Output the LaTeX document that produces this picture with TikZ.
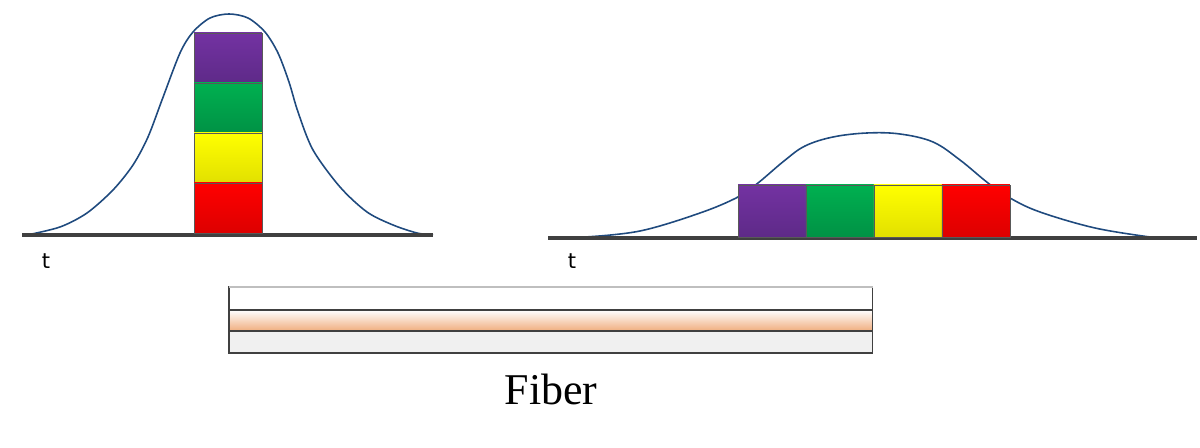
\documentclass[tikz,border=0pt]{standalone}
\usepackage{fontspec}
\setmainfont{Liberation Serif}
\newfontfamily\labelfont{DejaVu Sans}
\usetikzlibrary{positioning}

\definecolor{pulseblue}{HTML}{1F4A7E}
\definecolor{purpleA}{HTML}{7332A2}
\definecolor{purpleB}{HTML}{5E2A88}
\definecolor{greenA}{HTML}{00B050}
\definecolor{greenB}{HTML}{009245}
\definecolor{yellowA}{HTML}{FFFF00}
\definecolor{yellowB}{HTML}{E2E000}
\definecolor{redA}{HTML}{FF0000}
\definecolor{redB}{HTML}{DD0000}
\definecolor{coreA}{HTML}{FFFFFF}
\definecolor{coreB}{HTML}{F0AD7E}

\begin{document}
\begin{tikzpicture}[
		x=0.02cm, y=-0.02cm,
		pulse/.style={draw=pulseblue, line width=0.9pt},
		axis/.style={draw=black!75, line width=1.8pt},
		blk/.style={
			draw=black!65, line width=0.5pt, inner sep=0pt, outer sep=0pt,
			minimum width=1.36cm, minimum height=1.0cm
		},
		wideblk/.style={blk, minimum height=1.04cm},
		layer/.style={
			draw=black!75, line width=0.6pt, inner sep=0pt, outer sep=0pt,
			minimum width=12.88cm
		},
		tlabel/.style={font=\labelfont\fontsize{12}{14}\selectfont}
		]
		\useasboundingbox (0,0) rectangle (1200,448);
		
		% ---- linker Puls (kurz, hoch)
		\draw[pulse] plot[smooth, tension=0.5] coordinates {
			(27,235) (60,227) (87,213) (113,190) (133,165) (148,137) (162,100)
			(180,53) (193,32) (210,18) (229,14) (248,18) (265,32) (278,53)
			(289,82) (298,112) (313,150) (340,187) (367,212) (393,225) (417,233) (433,235)};
		\draw[axis] (22,235) -- (433,235);
		
		\node[blk, top color=purpleA, bottom color=purpleB, anchor=north west] (lpurple) at (194,33) {};
		\node[blk, top color=greenA,  bottom color=greenB,  below=0pt of lpurple] (lgreen)  {};
		\node[blk, top color=yellowA, bottom color=yellowB, below=0pt of lgreen]  (lyellow) {};
		\node[blk, top color=redA,    bottom color=redB,    below=0pt of lyellow] (lred)    {};
		\node[tlabel] (tleft) at (46,261) {t};
		
		% ---- rechter Puls (breit, flach)
		\draw[pulse] plot[smooth, tension=0.6] coordinates {
			(585,237) (640,231) (700,213) (738,197) (758,183) (784,161) (805,146)
			(833,137) (867,133) (900,134) (933,142) (960,160) (988,183) (1010,198)
			(1040,212) (1095,228) (1150,237)};
		\draw[axis] (548,238) -- (1197,238);
		
		\node[wideblk, top color=purpleA, bottom color=purpleB, anchor=north west] (rpurple) at (738,185) {};
		\node[wideblk, top color=greenA,  bottom color=greenB,  right=0pt of rpurple] (rgreen)  {};
		\node[wideblk, top color=yellowA, bottom color=yellowB, right=0pt of rgreen]  (ryellow) {};
		\node[wideblk, top color=redA,    bottom color=redB,    right=0pt of ryellow] (rred)    {};
		\node[tlabel] (tright) at (572,261) {t};
		
		% ---- Faser (Mantel / Kern / Mantel)
		\node[layer, fill=white, minimum height=0.46cm, anchor=north west] (cladtop) at (229,287) {};
		\node[layer, top color=coreA, bottom color=coreB, minimum height=0.42cm, below=0pt of cladtop] (core) {};
		\node[layer, fill=black!6, minimum height=0.44cm, below=0pt of core] (cladlow) {};
		\draw[black!25, line width=0.8pt] (cladtop.north west) -- (cladtop.north east);
		\node[font=\fontsize{25}{30}\selectfont] (fiber) at (551,389) {Fiber};
	\end{tikzpicture}
\end{document}
